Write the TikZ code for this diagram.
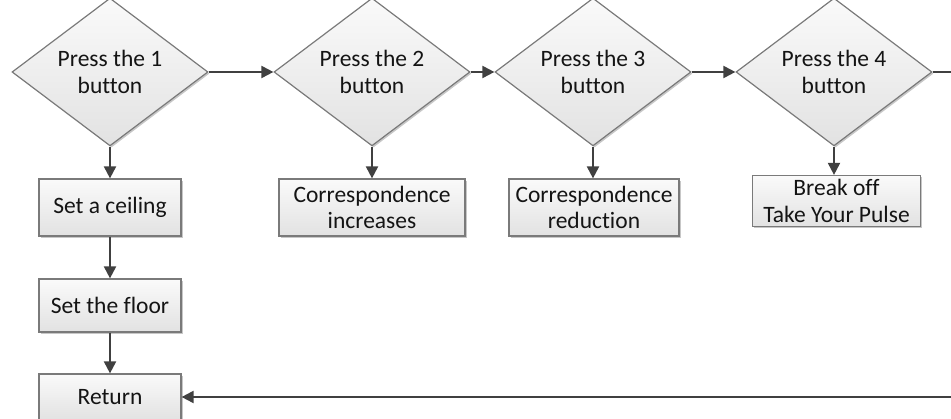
\documentclass[tikz,border=0pt]{standalone}
\usepackage{fontspec}
\setmainfont{Carlito}[Ligatures=NoCommon]
\usetikzlibrary{arrows.meta,shapes.geometric,shadows}
\definecolor{edgegray}{HTML}{7A7A7A}
\definecolor{arrowgray}{HTML}{404040}
\definecolor{filltop}{HTML}{FAFAFA}
\definecolor{fillbot}{HTML}{E2E2E2}
\tikzset{
  shapebase/.style={draw=edgegray, line width=1.2pt, top color=filltop, bottom color=fillbot,
    inner sep=0pt, align=center, text=black!92,
    font=\fontsize{23.5}{26.8}\selectfont,
    drop shadow={shadow xshift=1.6pt, shadow yshift=-1.6pt, opacity=0.22, fill=black}},
  decision/.style={shapebase, diamond, minimum width=196pt, minimum height=125pt},
  process/.style={shapebase, rectangle, minimum height=#1},
  process/.default=57pt,
  flow/.style={draw=arrowgray, line width=2pt, -{Triangle[length=12pt,width=12pt]}},
  plainflow/.style={draw=arrowgray, line width=2pt}
}
\begin{document}
\begin{tikzpicture}[x=1pt,y=-1pt]
\useasboundingbox (0,0) rectangle (951,419);
\node[decision] (d1) at (110,72) {Press the 1\\button};
\node[decision] (d2) at (372,72) {Press the 2\\button};
\node[decision] (d3) at (593,72) {Press the 3\\button};
\node[decision] (d4) at (834,72) {Press the 4\\button};

\node[process, minimum width=142pt] (ceil) at (110,207.5) {Set a ceiling};
\node[process, minimum width=186pt] (inc) at (372,207.5) {Correspondence\\increases};
\node[process, minimum width=170pt] (red) at (594,207.5) {Correspondence\\reduction};
\node[process=51pt, minimum width=168pt] (brk) at (836.5,201) {Break off\\Take Your Pulse};
\node[process=53pt, minimum width=142pt] (floor) at (110,305.5) {Set the floor};
\node[process=46pt, minimum width=142pt] (ret) at (110,397) {Return};

\coordinate (outr) at (953,72);
\coordinate (inr) at (953,397);

\draw[flow] (d1.east) -- (d2.west);
\draw[flow] (d2.east) -- (d3.west);
\draw[flow] (d3.east) -- (d4.west);
\draw[plainflow] (d4.east) -- (outr);

\draw[flow] (d1.south) -- (ceil.north);
\draw[flow] (d2.south) -- (inc.north);
\draw[flow] (d3.south) -- (red.north -| d3.south);
\draw[flow] (d4.south) -- (brk.north -| d4.south);
\draw[flow] (ceil.south) -- (floor.north);
\draw[flow] (floor.south) -- (ret.north);
\draw[flow] (inr) -- (ret.east);
\end{tikzpicture}
\end{document}
